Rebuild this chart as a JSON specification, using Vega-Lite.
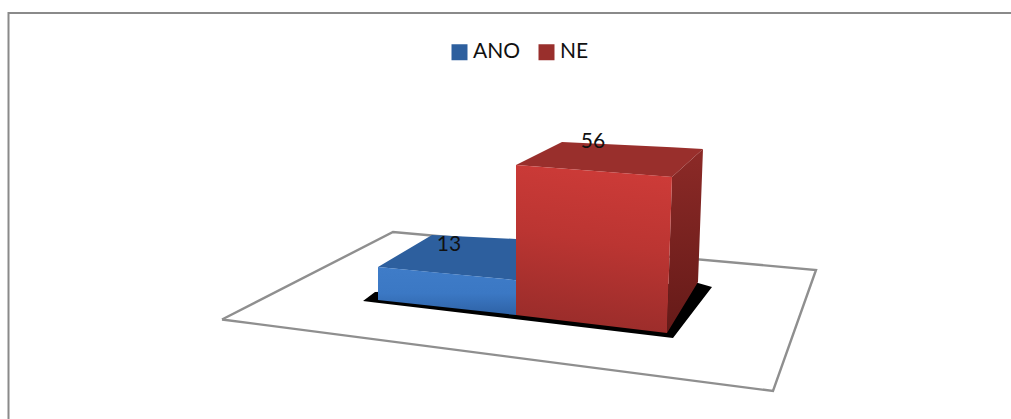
{
  "$schema": "https://vega.github.io/schema/vega-lite/v6.json",
  "width": 1011,
  "height": 419,
  "padding": 0,
  "autosize": {"type": "fit", "contains": "padding"},
  "background": "#ffffff",
  "view": {"stroke": null},
  "config": {"font": "Lato"},
  "data": {
    "values": [
      {"part": "frame", "step": 1, "sx": 8.5, "level": -38.82},
      {"part": "frame", "step": 2, "sx": 8.5, "level": 112.7},
      {"part": "frame", "step": 3, "sx": 1011, "level": 112.7},

      {"part": "floor", "step": 1, "sx": 222, "level": -1.68},
      {"part": "floor", "step": 2, "sx": 393, "level": 30.98},
      {"part": "floor", "step": 3, "sx": 816, "level": 16.8},
      {"part": "floor", "step": 4, "sx": 773, "level": -28.37},
      {"part": "floor", "step": 5, "sx": 222, "level": -1.68},

      {"part": "shadow", "sx": 363, "level": 5.2, "level2": 5.2},
      {"part": "shadow", "sx": 375, "level": 8.6, "level2": 4.7},
      {"part": "shadow", "sx": 673, "level": 11.7, "level2": -8.6},
      {"part": "shadow", "sx": 698, "level": 11.9, "level2": 3.6},
      {"part": "shadow", "sx": 712, "level": 10.45, "level2": 10.45},

      {"part": "top", "series": "ANO", "sx": 378, "level": 17.9, "level2": 17.9},
      {"part": "top", "series": "ANO", "sx": 432, "level": 29.9, "level2": 15.98},
      {"part": "top", "series": "ANO", "sx": 516, "level": 28.4, "level2": 13},

      {"part": "frontANO", "series": "ANO", "sx": 378, "level": 17.9, "level2": 5.6},
      {"part": "frontANO", "series": "ANO", "sx": 516, "level": 13, "level2": 0},

      {"part": "side", "series": "NE", "sx": 667, "level": -6.72, "level2": -6.72},
      {"part": "side", "series": "NE", "sx": 672, "level": 51.5, "level2": -3.66},
      {"part": "side", "series": "NE", "sx": 698, "level": 60.3, "level2": 12.3},
      {"part": "side", "series": "NE", "sx": 703, "level": 62, "level2": 62},

      {"part": "top", "series": "NE", "sx": 516, "level": 56, "level2": 56},
      {"part": "top", "series": "NE", "sx": 562, "level": 64.6, "level2": 54.67},
      {"part": "top", "series": "NE", "sx": 672, "level": 62.57, "level2": 51.5},
      {"part": "top", "series": "NE", "sx": 703, "level": 62, "level2": 62},

      {"part": "frontNE", "series": "NE", "sx": 516, "level": 56, "level2": 0},
      {"part": "frontNE", "series": "NE", "sx": 667, "level": 51.66, "level2": -6.72},
      {"part": "frontNE", "series": "NE", "sx": 672, "level": 51.5, "level2": 51.5},

      {"part": "label", "series": "ANO", "sx": 449, "level": 26.1, "value": 13},
      {"part": "label", "series": "NE", "sx": 593, "level": 64.4, "value": 56}
    ]
  },
  "encoding": {
    "x": {"field": "sx", "type": "quantitative", "axis": null, "scale": {"domain": [0, 1011], "nice": false, "zero": false}},
    "y": {"field": "level", "type": "quantitative", "axis": null, "scale": {"domain": [-38.82, 117.58], "nice": false, "zero": false}}
  },
  "layer": [
    {
      "transform": [{"filter": "datum.part === 'frame'"}],
      "mark": {"type": "line", "color": "#8a8a8a", "strokeWidth": 2, "clip": true},
      "encoding": {"order": {"field": "step", "type": "quantitative"}}
    },
    {
      "transform": [{"filter": "datum.part === 'floor'"}],
      "mark": {"type": "line", "color": "#8f8f8f", "strokeWidth": 2.4},
      "encoding": {"order": {"field": "step", "type": "quantitative"}}
    },
    {
      "transform": [{"filter": "datum.part === 'shadow'"}],
      "mark": {"type": "area", "color": "#000000"},
      "encoding": {"y2": {"field": "level2"}}
    },
    {
      "transform": [{"filter": "datum.part === 'top' && datum.series === 'ANO'"}],
      "mark": {"type": "area"},
      "encoding": {
        "y2": {"field": "level2"},
        "color": {
          "field": "series",
          "type": "nominal",
          "scale": {"domain": ["ANO", "NE"], "range": ["#2d5f9e", "#992f2c"]},
          "legend": {
            "title": null,
            "orient": "none",
            "legendX": 449,
            "legendY": 41.5,
            "direction": "horizontal",
            "columns": 2,
            "symbolType": "square",
            "symbolSize": 256,
            "symbolStrokeWidth": 0,
            "symbolOpacity": 1,
            "labelFont": "Lato",
            "labelFontSize": 21,
            "labelColor": "#111111",
            "labelOffset": 3,
            "columnPadding": 15,
            "padding": 0
          }
        }
      }
    },
    {
      "transform": [{"filter": "datum.part === 'frontANO'"}],
      "mark": {
        "type": "area",
        "color": {
          "gradient": "linear", "x1": 0, "y1": 0, "x2": 0, "y2": 1,
          "stops": [
            {"offset": 0, "color": "#3f7cc8"},
            {"offset": 0.55, "color": "#3b78c4"},
            {"offset": 1, "color": "#2e62a6"}
          ]
        }
      },
      "encoding": {"y2": {"field": "level2"}}
    },
    {
      "transform": [{"filter": "datum.part === 'side'"}],
      "mark": {
        "type": "area",
        "color": {
          "gradient": "linear", "x1": 0, "y1": 0, "x2": 0, "y2": 1,
          "stops": [
            {"offset": 0, "color": "#8c2a27"},
            {"offset": 1, "color": "#651a18"}
          ]
        }
      },
      "encoding": {"y2": {"field": "level2"}}
    },
    {
      "transform": [{"filter": "datum.part === 'top' && datum.series === 'NE'"}],
      "mark": {"type": "area"},
      "encoding": {
        "y2": {"field": "level2"},
        "color": {"field": "series", "type": "nominal"}
      }
    },
    {
      "transform": [{"filter": "datum.part === 'frontNE'"}],
      "mark": {
        "type": "area",
        "color": {
          "gradient": "linear", "x1": 0.55, "y1": 0, "x2": 0.4, "y2": 1,
          "stops": [
            {"offset": 0, "color": "#cd3b38"},
            {"offset": 0.45, "color": "#bb3532"},
            {"offset": 1, "color": "#982c2a"}
          ]
        }
      },
      "encoding": {"y2": {"field": "level2"}}
    },
    {
      "transform": [{"filter": "datum.part === 'label'"}],
      "mark": {"type": "text", "font": "Lato", "fontSize": 21, "color": "#111111", "align": "center", "baseline": "middle"},
      "encoding": {"text": {"field": "value", "type": "quantitative"}}
    }
  ]
}
